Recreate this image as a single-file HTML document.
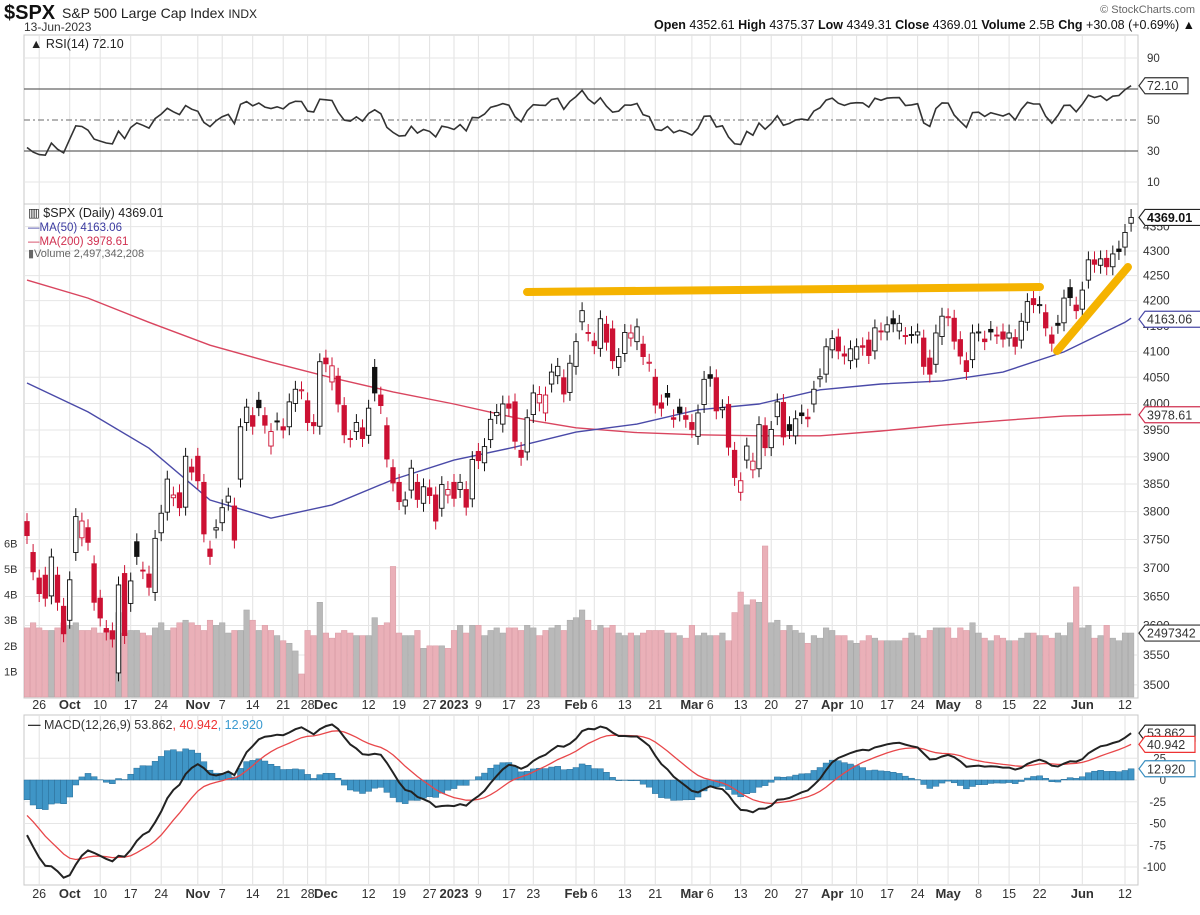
<!DOCTYPE html>
<html><head><meta charset="utf-8">
<style>
html,body{margin:0;padding:0;background:#fff;}
body{width:1200px;height:910px;overflow:hidden;font-family:"Liberation Sans",sans-serif;}
svg text{font-family:"Liberation Sans",sans-serif;}
</style></head>
<body>
<svg id="chart" width="1200" height="910" viewBox="0 0 1200 910" xmlns="http://www.w3.org/2000/svg">
<g>
<text x="4" y="19" font-size="20" font-weight="bold" fill="#111">$SPX</text>
<text x="62" y="18" font-size="14" fill="#222">S&amp;P 500 Large Cap Index <tspan font-size="12">INDX</tspan></text>
<text x="24" y="31" font-size="12" fill="#333">13-Jun-2023</text>
<text x="1195" y="13" font-size="11" fill="#666" text-anchor="end">© StockCharts.com</text>
<text x="1195" y="29" font-size="12.5" fill="#111" text-anchor="end"><tspan font-weight="bold">Open</tspan> 4352.61 <tspan font-weight="bold">High</tspan> 4375.37 <tspan font-weight="bold">Low</tspan> 4349.31 <tspan font-weight="bold">Close</tspan> 4369.01 <tspan font-weight="bold">Volume</tspan> 2.5B <tspan font-weight="bold">Chg</tspan> +30.08 (+0.69%) ▲</text>
</g>
<g id="grid"></g>
<g id="rsi"></g>
<g id="vol"></g>
<g id="price"></g>
<g id="macd"></g>
<g id="axes"></g>
</svg>
<script>
// ---------- DATA ----------
const warmup = [3825,3831,3845,3902,3899,3854,3819,3801,3790,3863,3831,3937,3960,3999,3962,3967,3921,4024,4072,4130,4119,4091,4155,4152,4145,4140,4122,4210,4208,4280,4297,4305,4275,4284,4228,4138,4128,4141,4199,4058,4031,3986,3955,3967,3924,3908,3980,4006,4067,4110,3932,3946,3901,3873,3900,3856];
const dates = [
"9/22","9/23","9/26","9/27","9/28","9/29","9/30",
"10/3","10/4","10/5","10/6","10/7","10/10","10/11","10/12","10/13","10/14",
"10/17","10/18","10/19","10/20","10/21","10/24","10/25","10/26","10/27","10/28",
"10/31","11/1","11/2","11/3","11/4","11/7","11/8","11/9","11/10","11/11",
"11/14","11/15","11/16","11/17","11/18","11/21","11/22","11/23","11/25",
"11/28","11/29","11/30","12/1","12/2","12/5","12/6","12/7","12/8","12/9",
"12/12","12/13","12/14","12/15","12/16","12/19","12/20","12/21","12/22","12/23",
"12/27","12/28","12/29","12/30","1/3","1/4","1/5","1/6",
"1/9","1/10","1/11","1/12","1/13","1/17","1/18","1/19","1/20",
"1/23","1/24","1/25","1/26","1/27","1/30","1/31","2/1","2/2","2/3",
"2/6","2/7","2/8","2/9","2/10","2/13","2/14","2/15","2/16","2/17",
"2/21","2/22","2/23","2/24","2/27","2/28","3/1","3/2","3/3",
"3/6","3/7","3/8","3/9","3/10","3/13","3/14","3/15","3/16","3/17",
"3/20","3/21","3/22","3/23","3/24","3/27","3/28","3/29","3/30","3/31",
"4/3","4/4","4/5","4/6","4/10","4/11","4/12","4/13","4/14",
"4/17","4/18","4/19","4/20","4/21","4/24","4/25","4/26","4/27","4/28",
"5/1","5/2","5/3","5/4","5/5","5/8","5/9","5/10","5/11","5/12",
"5/15","5/16","5/17","5/18","5/19","5/22","5/23","5/24","5/25","5/26",
"5/30","5/31","6/1","6/2","6/5","6/6","6/7","6/8","6/9","6/12","6/13"];
const opens = [
3782,3727,3682,3687,3651,3687,3633,
3609,3727,3753,3771,3707,3647,3595,3591,3520,3690,
3638,3746,3696,3689,3657,3762,3799,3825,3834,3808,
3881,3901,3853,3733,3767,3780,3817,3810,3859,3964,
3977,4006,3977,3920,3967,3956,3956,4000,4024,
4005,3964,3957,4087,4041,4052,3996,3934,3947,3954,
3940,4069,4016,3958,3880,3853,3810,3839,3853,3815,
3843,3830,3806,3830,3853,3840,3840,3823,
3910,3889,3932,3977,3961,3999,4003,3912,3909,
3979,4001,3982,4037,4053,4049,4021,4071,4158,4137,
4120,4106,4153,4144,4069,4096,4126,4119,4114,4077,
4050,4001,4019,3973,3993,3977,3964,3938,3998,
4055,4049,3988,3998,3912,3835,3894,3876,3878,3958,
3917,3975,4002,3960,3939,3982,3974,3999,4047,4056,
4103,4128,4095,4082,4085,4111,4122,4101,4140,
4138,4164,4140,4131,4132,4132,4126,4087,4075,4129,
4166,4165,4123,4082,4084,4136,4124,4143,4132,4138,
4126,4127,4122,4157,4204,4191,4176,4132,4155,4156,
4226,4191,4183,4241,4282,4271,4285,4268,4304,4308,4357];
const closes = [
3757,3693,3655,3647,3719,3640,3586,
3679,3791,3783,3745,3640,3613,3589,3577,3670,3583,
3677,3720,3695,3666,3752,3797,3859,3830,3807,3901,
3872,3856,3760,3720,3771,3807,3828,3749,3956,3993,
3957,3992,3959,3947,3965,3950,4003,4027,4026,
3964,3958,4080,4076,4072,3999,3941,3933,3964,3934,
3991,4020,3996,3896,3852,3818,3821,3879,3822,3845,
3829,3783,3849,3840,3824,3853,3808,3895,
3893,3919,3970,3983,3999,3991,3929,3899,3973,
4020,4017,4016,4060,4071,4018,4077,4119,4180,4136,
4111,4164,4118,4082,4090,4137,4136,4148,4090,4079,
3997,3991,4012,3970,3982,3970,3951,3982,4046,
4048,3986,3992,3918,3862,3856,3920,3892,3960,3917,
3951,4003,3937,3949,3971,3977,3971,4027,4051,4109,
4125,4101,4091,4105,4109,4108,4092,4146,4138,
4152,4154,4155,4130,4133,4138,4071,4056,4136,4169,
4168,4120,4091,4061,4136,4138,4119,4138,4131,4124,
4136,4110,4159,4198,4192,4192,4146,4116,4151,4205,
4206,4180,4221,4282,4273,4284,4268,4294,4299,4338,4369];
const volumes = [
2.7,2.9,2.7,2.6,2.6,2.7,2.9,
2.8,2.9,2.6,2.6,2.7,2.5,2.6,2.6,3.3,2.5,
2.6,2.6,2.5,2.4,2.7,2.9,2.6,2.7,2.9,3.0,
2.9,2.8,2.6,3.0,2.8,2.9,2.5,2.6,2.6,3.4,
3.0,2.6,2.8,2.6,2.4,2.2,2.1,1.8,0.9,
2.6,2.4,3.7,2.5,2.3,2.5,2.6,2.5,2.4,2.4,
2.4,3.1,2.8,2.9,5.1,2.5,2.4,2.4,2.6,1.9,
2.0,2.0,2.0,1.9,2.6,2.8,2.5,2.8,
2.8,2.4,2.6,2.7,2.5,2.7,2.7,2.6,2.8,
2.7,2.4,2.6,2.7,2.8,2.6,3.0,3.1,3.4,3.0,
2.6,2.8,2.7,2.8,2.5,2.4,2.5,2.4,2.5,2.6,
2.6,2.6,2.5,2.5,2.4,2.3,2.8,2.4,2.5,
2.4,2.4,2.5,2.2,3.3,4.1,3.6,3.8,3.7,5.9,
2.9,3.0,2.6,2.8,2.6,2.5,2.1,2.4,2.3,2.7,
2.6,2.4,2.4,2.2,2.1,2.2,2.4,2.3,2.2,
2.2,2.2,2.2,2.3,2.5,2.4,2.3,2.6,2.7,2.7,
2.7,2.3,2.7,2.6,2.9,2.5,2.3,2.2,2.4,2.3,
2.2,2.2,2.3,2.5,2.5,2.4,2.4,2.3,2.5,2.4,
2.9,4.3,2.7,2.8,2.3,2.4,2.8,2.3,2.2,2.5,2.5];
// moving averages sampled every 10 candles (last = final candle)
const ma50 = [4039,3984,3916,3821,3788,3812,3858,3894,3918,3946,3961,3988,3999,4026,4037,4043,4060,4099,4157,4165];
const ma200 = [4241,4205,4157,4112,4079,4049,4022,3999,3973,3954,3945,3941,3939,3939,3948,3959,3968,3976,3979,3979];
const tickLabels = ["26","Oct","10","17","24","Nov","7","14","21","28","Dec","12","19","27","2023","9","17","23","Feb","6","13","21","Mar","6","13","20","27","Apr","10","17","24","May","8","15","22","Jun","12"];
const tickDates = ["9/26","10/3","10/10","10/17","10/24","11/1","11/7","11/14","11/21","11/28","12/1","12/12","12/19","12/27","1/3","1/9","1/17","1/23","2/1","2/6","2/13","2/21","3/1","3/6","3/13","3/20","3/27","4/3","4/10","4/17","4/24","5/1","5/8","5/15","5/22","6/1","6/12"];
const priceTicks = [4350,4300,4250,4200,4150,4100,4050,4000,3950,3900,3850,3800,3750,3700,3650,3600,3550,3500];
const volTicks = [1,2,3,4,5,6];
const rsiTicks = [90,70,50,30,10];
const macdTicks = [25,0,-25,-50,-75,-100];

// ---------- SCALES ----------
const NS="http://www.w3.org/2000/svg";
const L=24,R=1138;
const xOf=i=>27+i*6.1;
const yPrice=p=>251+2108*Math.log(4300/p);
const yVol=v=>697-25.6*v;
const yRsi=v=>120-(v-50)*1.55;
const yMacd=v=>780-v*0.87;
function mk(tag,attrs,parent){const e=document.createElementNS(NS,tag);for(const k in attrs)e.setAttribute(k,attrs[k]);parent.appendChild(e);return e;}
const G=id=>document.getElementById(id);

// ---------- PANELS & GRID ----------
const grid=G('grid');
const panels=[[35,204],[204,698],[715,885]];
panels.forEach((p,k)=>{const r=mk('rect',{x:L,y:p[0],width:R-L,height:p[1]-p[0],fill:'#fff',stroke:'#c8c8c8'},grid);

});
const idxOf=d=>dates.indexOf(d);
tickDates.forEach((d,k)=>{const x=xOf(idxOf(d));
 panels.forEach(p=>{const l=mk('line',{x1:x,x2:x,y1:p[0],y2:p[1],stroke:'#e2e2e2'},grid);
 
 });});
priceTicks.forEach(t=>{const y=yPrice(t);const l=mk('line',{x1:L,x2:R,y1:y,y2:y,stroke:'#e6e6e6'},grid);
 
 });
[90,10].forEach(t=>{const l=mk('line',{x1:L,x2:R,y1:yRsi(t),y2:yRsi(t),stroke:'#e6e6e6'},grid);
 
 });
macdTicks.forEach(t=>{const l=mk('line',{x1:L,x2:R,y1:yMacd(t),y2:yMacd(t),stroke:'#e6e6e6'},grid);
 
 });

// ---------- RSI ----------
const all=warmup.concat(closes);const W=warmup.length;
const rsiVals=[];let ag=0,al=0;
for(let i=1;i<all.length;i++){const ch=all[i]-all[i-1];const g=Math.max(ch,0),lo=Math.max(-ch,0);
 if(i<=14){ag+=g/14;al+=lo/14;}else{ag=(ag*13+g)/14;al=(al*13+lo)/14;}
 rsiVals[i]=al===0?100:100-100/(1+ag/al);}
const rsiG=G('rsi');
[[70,'#666',''],[30,'#666',''],[50,'#888','6,3,2,3']].forEach(a=>{const l=mk('line',{x1:L,x2:R,y1:yRsi(a[0]),y2:yRsi(a[0]),stroke:a[1],'stroke-width':1.2,'stroke-dasharray':a[2]},rsiG);
 
 });
let rp='';closes.forEach((c,i)=>{rp+=(i?'L':'M')+xOf(i).toFixed(1)+','+yRsi(rsiVals[W+i]).toFixed(1);});
const rl=mk('path',{d:rp,fill:'none',stroke:'#333','stroke-width':1.6},rsiG);


const rt=mk('text',{x:30,y:48,'font-size':12.5,fill:'#222'},rsiG);rt.textContent='▲ RSI(14) 72.10';



// ---------- VOLUME ----------
const volG=G('vol');
volumes.forEach((v,i)=>{const down=i>0?closes[i]<closes[i-1]:true;const y=Math.max(yVol(v),205);
 const b=mk('rect',{x:xOf(i)-2.8,y:y,width:5.6,height:697-y,fill:down?'#eab0b8':'#b9b9b9',stroke:down?'#d99aa3':'#a6a6a6','stroke-width':0.5},volG);
 
 });

// ---------- PRICE ----------
const pg=G('price');
function maPath(arr,color,name){let d='';arr.forEach((v,k)=>{const i=Math.min(k*10,closes.length-1);d+=(k?'L':'M')+xOf(i).toFixed(1)+','+yPrice(v).toFixed(1);});
 const p=mk('path',{d:d,fill:'none',stroke:color,'stroke-width':1.4},pg);
 
 }
maPath(ma200,'#d9455f','ma200-line');
maPath(ma50,'#4a4aa8','ma50-line');
closes.forEach((c,i)=>{const o=opens[i];const x=xOf(i);const prev=i>0?closes[i-1]:o;
 const col=c<prev?'#cc1133':'#111';const hi=Math.max(o,c)*1.004,lo=Math.min(o,c)*0.996;
 const g=mk('g',{},pg);
 
 
 mk('line',{x1:x,x2:x,y1:yPrice(hi),y2:yPrice(lo),stroke:col,'stroke-width':1},g);
 const top=yPrice(Math.max(o,c)),bot=yPrice(Math.min(o,c));
 mk('rect',{x:x-2.2,y:top,width:4.4,height:Math.max(bot-top,1),fill:c>=o?'#fff':col,stroke:col,'stroke-width':0.9},g);});
// annotations
const a1=mk('line',{x1:527,y1:292,x2:1040,y2:287,stroke:'#f5b300','stroke-width':8,'stroke-linecap':'round'},pg);


const a2=mk('line',{x1:1057,y1:351,x2:1128,y2:267,stroke:'#f5b300','stroke-width':8,'stroke-linecap':'round'},pg);


const leg=[['▥ $SPX (Daily) 4369.01','#222',217,12.5],['—MA(50) 4163.06','#3b3ba0',231,11.5],['—MA(200) 3978.61','#d03050',245,11.5],['▮Volume 2,497,342,208','#666',257,11]];
['price-legend','ma50-legend','ma200-legend','volume-legend'].forEach((n,k)=>{const t=mk('text',{x:28,y:leg[k][2],'font-size':leg[k][3],fill:leg[k][1]},pg);t.textContent=leg[k][0];
 
 });

// ---------- MACD ----------
function ema(arr,n){const k=2/(n+1);const out=[];arr.forEach((v,i)=>{out[i]=i?v*k+out[i-1]*(1-k):v;});return out;}
const e12=ema(all,12),e26=ema(all,26);const macdL=all.map((v,i)=>e12[i]-e26[i]);const sig=ema(macdL,9);
const mg=G('macd');
closes.forEach((c,i)=>{const h=macdL[W+i]-sig[W+i];const y0=yMacd(0),y1=yMacd(h);
 const b=mk('rect',{x:xOf(i)-3,y:Math.min(y0,y1),width:6,height:Math.abs(y1-y0),fill:'#3f95c6',stroke:'#2a6f99','stroke-width':0.5},mg);
 
 });
function lineP(vals,color,w,name){let d='';closes.forEach((c,i)=>{d+=(i?'L':'M')+xOf(i).toFixed(1)+','+yMacd(vals[W+i]).toFixed(1);});
 const p=mk('path',{d:d,fill:'none',stroke:color,'stroke-width':w},mg);
 
 }
lineP(sig,'#e8474a',1.3,'macd-signal-line');
lineP(macdL,'#222',2,'macd-line');
const mt=mk('text',{x:28,y:729,'font-size':12.5,fill:'#333'},mg);
mt.innerHTML='<tspan font-weight="bold">—</tspan> MACD(12,26,9) 53.862<tspan fill="#e33">, 40.942</tspan><tspan fill="#3a9ad0">, 12.920</tspan>';



// ---------- AXES ----------
const ax=G('axes');
function label(x,y,txt,opts,name){const t=mk('text',Object.assign({x:x,y:y,'font-size':12,fill:'#333'},opts||{}),ax);t.textContent=txt;
 
 return t;}
tickDates.forEach((d,k)=>{const x=xOf(idxOf(d));const bold=isNaN(+tickLabels[k])||tickLabels[k]==='2023';
 [709,898].forEach(y=>label(x,y,tickLabels[k],{'text-anchor':'middle','font-weight':bold?'bold':'normal','font-size':bold?13:12.5},'x-tick-label'));});
priceTicks.forEach(t=>label(1143,yPrice(t)+4,String(t),{},'price-tick-label'));
volTicks.forEach(t=>label(4,yVol(t)+4,t+'B',{'font-size':11},'volume-tick-label'));
rsiTicks.forEach(t=>{if(t!==70)label(1147,yRsi(t)+4,String(t),{'font-size':11.5},'rsi-tick-label');});
macdTicks.forEach(t=>label(1166,yMacd(t)+4,String(t),{'font-size':11.5,'text-anchor':'end'},'macd-tick-label'));
function tag(y,txt,color,bold,name){const w=txt.length*7+8;const g=mk('g',{},ax);
 
 
 mk('path',{d:`M1139,${y} L1145,${y-8} L${1145+w},${y-8} L${1145+w},${y+8} L1145,${y+8} Z`,fill:'#fff',stroke:color,'stroke-width':1.2},g);
 const t=mk('text',{x:1147,y:y+4.5,'font-size':12.5,fill:bold?'#111':'#333','font-weight':bold?'bold':'normal'},g);t.textContent=txt;}
tag(yRsi(72.1),'72.10','#333',false,'rsi-value-tag');
tag(yPrice(4369.01),'4369.01','#222',true,'price-value-tag');
tag(yPrice(4163.06),'4163.06','#4a4aa8',false,'ma50-value-tag');
tag(yPrice(3978.61),'3978.61','#d03050',false,'ma200-value-tag');
tag(yVol(2.497),'2497342','#333',false,'volume-value-tag');
tag(yMacd(53.862),'53.862','#222',false,'macd-value-tag');
tag(yMacd(40.942),'40.942','#e33',false,'signal-value-tag');
tag(yMacd(12.92),'12.920','#3a8fc0',false,'histogram-value-tag');
</script>
</body></html>
